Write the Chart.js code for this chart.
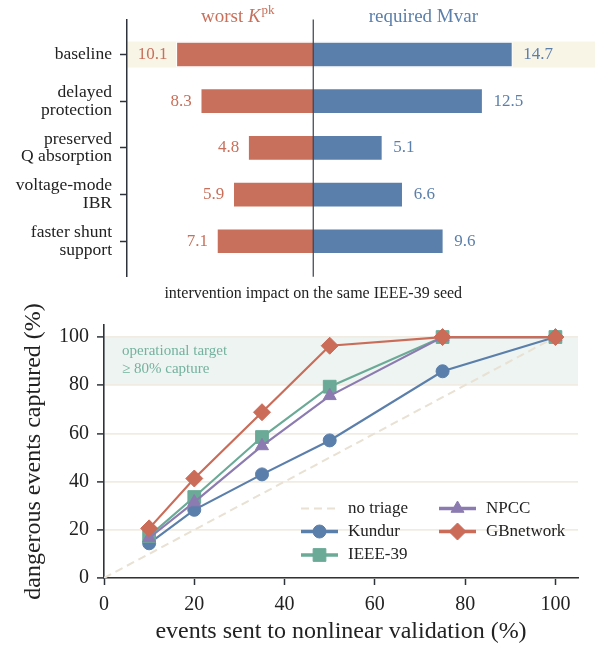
<!DOCTYPE html>
<html><head><meta charset="utf-8">
<script src="https://cdn.jsdelivr.net/npm/chart.js@4.4.1/dist/chart.umd.min.js"></script>
<style>
html,body{margin:0;padding:0;background:#fff;}
#wrap{position:relative;width:595px;height:648px;overflow:hidden;}
canvas{position:absolute;left:0;}
#top{top:0;z-index:2;} #bot{top:300px;z-index:1;}
</style></head><body>
<div id="wrap"><canvas id="top" width="595" height="310"></canvas><canvas id="bot" width="595" height="348"></canvas></div>
<script>
// ---------- data: top panel ----------
const interventions = ['baseline', ['delayed', 'protection'], ['preserved', 'Q absorption'], ['voltage-mode', 'IBR'], ['faster shunt', 'support']];
const worstK = [10.1, 8.3, 4.8, 5.9, 7.1];
const requiredMvar = [14.7, 12.5, 5.1, 6.6, 9.6];
const highlightRow = 0;
const topXLabel = 'intervention impact on the same IEEE-39 seed';

// ---------- data: bottom panel ----------
const sentPct = [10, 20, 35, 50, 75, 100];
const kundur = [14.4, 28.3, 43.0, 57.1, 85.8, 100];
const ieee39 = [17.4, 33.6, 58.5, 79.4, 100, 100];
const npcc = [16.6, 31.5, 54.8, 75.6, 100, 100];
const gbnetwork = [20.6, 41.3, 68.8, 96.4, 100, 100];
const noTriageX = [0, 100];
const noTriageY = [0, 100];
const xTickValues = [0, 20, 40, 60, 80, 100];
const yTickValues = [0, 20, 40, 60, 80, 100];
const targetLow = 80, targetHigh = 100;
const targetText = ['operational target', '\u2265 80% capture'];

const FONT = "'Liberation Serif', 'Times New Roman', serif";
Chart.defaults.font.family = FONT;
Chart.defaults.color = '#222';

const RED = '#c8705b', BLUE = '#5b7fab', TEAL = '#6aaa96', PURPLE = '#8c7bb0', GBRED = '#ca6c58';
const SPINE = '#2e333b';

// ---------- top panel ----------
const topDeco = {
  id: 'topDeco',
  beforeDraw(chart) {
    const {ctx, chartArea: a, scales: {x, y}} = chart;
    const yc = y.getPixelForValue(highlightRow);
    ctx.save();
    ctx.fillStyle = '#f8f4e6';
    ctx.fillRect(a.left, yc - 13, a.right - a.left, 26);
    ctx.restore();
  },
  afterDatasetsDraw(chart) {
    const {ctx, chartArea: a, scales: {x, y}} = chart;
    ctx.save();
    const x0 = x.getPixelForValue(0);
    ctx.strokeStyle = '#3a3f47';
    ctx.lineWidth = 1.2;
    ctx.beginPath(); ctx.moveTo(x0, a.top); ctx.lineTo(x0, a.bottom); ctx.stroke();
    ctx.font = '17px ' + FONT;
    ctx.textBaseline = 'middle';
    worstK.forEach((v, i) => {
      ctx.fillStyle = RED; ctx.textAlign = 'right';
      ctx.fillText(v.toFixed(1), x.getPixelForValue(-v) - 9, y.getPixelForValue(i));
    });
    requiredMvar.forEach((v, i) => {
      ctx.fillStyle = BLUE; ctx.textAlign = 'left';
      ctx.fillText(v.toFixed(1), x.getPixelForValue(v) + 11, y.getPixelForValue(i));
    });
    // panel headers
    ctx.textBaseline = 'alphabetic';
    const by = 22;
    ctx.font = '19px ' + FONT;
    const w1 = ctx.measureText('worst ').width;
    ctx.font = 'italic 19px ' + FONT;
    const w2 = ctx.measureText('K').width;
    ctx.font = '13px ' + FONT;
    const w3 = ctx.measureText('pk').width;
    let sx = x.getPixelForValue(-5.57) - (w1 + w2 + 1 + w3) / 2;
    ctx.fillStyle = RED; ctx.textAlign = 'left';
    ctx.font = '19px ' + FONT; ctx.fillText('worst ', sx, by); sx += w1;
    ctx.font = 'italic 19px ' + FONT; ctx.fillText('K', sx, by); sx += w2 + 1;
    ctx.font = '13px ' + FONT; ctx.fillText('pk', sx, by - 8);
    ctx.fillStyle = BLUE; ctx.textAlign = 'center';
    ctx.font = '19px ' + FONT;
    ctx.fillText('required Mvar', x.getPixelForValue(8.13), by);
    // x label
    ctx.fillStyle = '#222';
    ctx.font = '16px ' + FONT;
    ctx.textBaseline = 'middle';
    ctx.fillText(topXLabel, x0, 294);
    ctx.restore();
  }
};

new Chart(document.getElementById('top'), {
  type: 'bar',
  data: {
    datasets: [
      {label: 'worst K', data: worstK.map((v, i) => ({x: -v, y: i})), backgroundColor: RED,
       borderColor: '#ffffff', borderWidth: 1, barThickness: 25, grouped: false},
      {label: 'required Mvar', data: requiredMvar.map((v, i) => ({x: v, y: i})), backgroundColor: BLUE,
       borderColor: '#ffffff', borderWidth: 1, barThickness: 25, grouped: false}
    ]
  },
  options: {
    indexAxis: 'y', responsive: false, animation: false, devicePixelRatio: 1,
    layout: {padding: {top: 19.5, bottom: 33.3, left: 0, right: 0}},
    plugins: {legend: {display: false}, tooltip: {enabled: false}},
    scales: {
      x: {type: 'linear', min: -13.75, max: 20.8, display: false},
      y: {
        type: 'linear', reverse: true, min: -0.75, max: 4.76, offset: false,
        afterBuildTicks: s => { s.ticks = interventions.map((c, i) => ({value: i})); },
        afterFit: s => { s.width = 127; s.paddingTop = 0; s.paddingBottom = 0; },
        ticks: {callback: v => interventions[v], font: {size: 17.5, lineHeight: 1.0}, color: '#222', padding: 8, autoSkip: false},
        grid: {offset: false, drawOnChartArea: false, drawTicks: true, tickLength: 7, tickColor: SPINE, tickWidth: 1.5},
        border: {display: true, color: SPINE, width: 1.5}
      }
    }
  },
  plugins: [topDeco]
});

// ---------- bottom panel ----------
const pts = arr => sentPct.map((x, i) => ({x: x, y: arr[i]}));

const botDeco = {
  id: 'botDeco',
  beforeDraw(chart) {
    const {ctx, chartArea: a, scales: {x, y}} = chart;
    ctx.save();
    ctx.fillStyle = '#eef4f1';
    const yt = y.getPixelForValue(targetHigh), yb = y.getPixelForValue(targetLow);
    ctx.fillRect(a.left, yt, a.right - a.left, yb - yt);
    ctx.restore();
  },
  afterDraw(chart) {
    const {ctx, scales: {x, y}} = chart;
    ctx.save();
    ctx.fillStyle = '#74b29f';
    ctx.font = '15px ' + FONT;
    ctx.textAlign = 'left'; ctx.textBaseline = 'middle';
    const tx = x.getPixelForValue(4), ty = y.getPixelForValue(94);
    targetText.forEach((t, i) => ctx.fillText(t, tx, ty + i * 17.5));
    // legend (two columns, column-major like matplotlib)
    const ds = chart.data.datasets;
    const cols = [[0, 1, 2], [3, 4]];
    const colX = [301, 439];
    const rowY = [208.5, 231.5, 255];
    cols.forEach((col, c) => col.forEach((di, r) => {
      const d = ds[di];
      const hx = colX[c], hy = rowY[r];
      ctx.save();
      ctx.strokeStyle = d.borderColor;
      ctx.lineWidth = di === 0 ? 2 : 3.5;
      ctx.setLineDash(d.borderDash || []);
      ctx.beginPath(); ctx.moveTo(hx, hy); ctx.lineTo(hx + 37, hy); ctx.stroke();
      ctx.setLineDash([]);
      if (d.pointRadius > 0) {
        ctx.fillStyle = d.pointBackgroundColor; ctx.strokeStyle = d.pointBorderColor; ctx.lineWidth = 1;
        Chart.helpers.drawPoint(ctx, {pointStyle: d.pointStyle, radius: d.pointRadius, rotation: 0, borderWidth: 1}, hx + 18.5, hy);
      }
      ctx.fillStyle = '#222'; ctx.font = '17px ' + FONT; ctx.textAlign = 'left'; ctx.textBaseline = 'middle';
      ctx.fillText(d.label, hx + 47, hy);
      ctx.restore();
    }));
    ctx.restore();
  }
};

function series(label, arr, color, style, r, order) {
  return {label, data: pts(arr), borderColor: color, backgroundColor: color, borderWidth: 2.2,
    pointStyle: style, pointRadius: r, pointBackgroundColor: color, pointBorderColor: color, pointBorderWidth: 1,
    tension: 0, order};
}

new Chart(document.getElementById('bot'), {
  type: 'line',
  data: {
    datasets: [
      {label: 'no triage', data: noTriageX.map((v, i) => ({x: v, y: noTriageY[i]})), borderColor: '#e8e1d4',
       borderWidth: 2, borderDash: [8, 5], pointRadius: 0, order: 5},
      series('Kundur', kundur, BLUE, 'circle', 6.5, 3),
      series('IEEE-39', ieee39, TEAL, 'rect', 9, 2),
      series('NPCC', npcc, PURPLE, 'triangle', 7.5, 1),
      series('GBnetwork', gbnetwork, GBRED, 'rectRot', 8.5, 0)
    ]
  },
  options: {
    responsive: false, animation: false, devicePixelRatio: 1,
    layout: {padding: {top: 25, right: 17, left: 0, bottom: 0}},
    plugins: {legend: {display: false}, tooltip: {enabled: false}},
    scales: {
      x: {
        type: 'linear', min: 0, max: 105,
        afterBuildTicks: s => { s.ticks = xTickValues.map(v => ({value: v})); },
        afterFit: s => { s.height = 70; },
        ticks: {font: {size: 20}, color: '#222', padding: 8},
        grid: {drawOnChartArea: false, drawTicks: true, tickLength: 7, tickColor: SPINE, tickWidth: 1.5},
        border: {display: true, color: SPINE, width: 1.6},
        title: {display: true, text: 'events sent to nonlinear validation (%)', font: {size: 24}, color: '#222', padding: {top: 0, bottom: 2}}
      },
      y: {
        type: 'linear', min: 0, max: 105,
        afterBuildTicks: s => { s.ticks = yTickValues.map(v => ({value: v})); },
        afterFit: s => { s.width = 104; },
        ticks: {font: {size: 20}, color: '#222', padding: 8},
        grid: {color: '#f1ece3', lineWidth: 1.8, drawTicks: true, tickLength: 7, tickColor: SPINE, tickWidth: 1.5},
        border: {display: true, color: SPINE, width: 1.6},
        title: {display: true, text: 'dangerous events captured (%)', font: {size: 24}, color: '#222', padding: {top: 19, bottom: 0}}
      }
    }
  },
  plugins: [botDeco]
});
</script>
</body></html>
